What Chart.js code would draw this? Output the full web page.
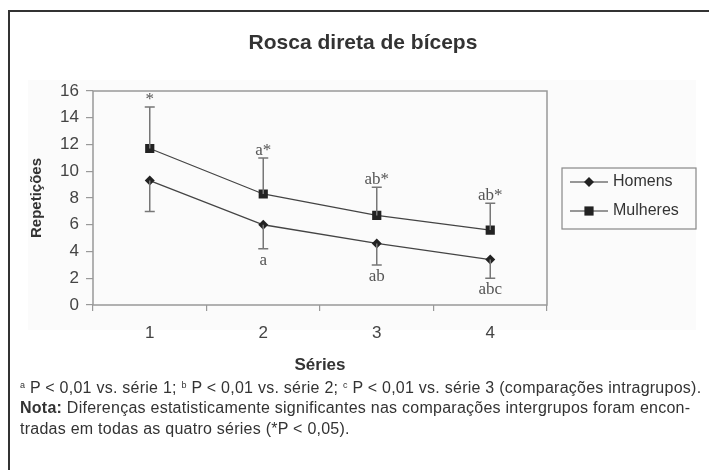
<!DOCTYPE html>
<html>
<head>
<meta charset="utf-8">
<script src="https://cdn.jsdelivr.net/npm/chart.js@4.4.1/dist/chart.umd.min.js"></script>
<style>
  html, body { margin: 0; padding: 0; background: #fff; }
  body { width: 709px; height: 470px; position: relative; overflow: hidden; }
  #frame { position: absolute; left: 8px; top: 10px; width: 760px; height: 520px;
           border-left: 2px solid #333; border-top: 2px solid #333; }
  #plotbg { position: absolute; left: 28px; top: 80px; width: 668px; height: 250px; background: #fbfbfb; }
  #chart { position: absolute; left: 0; top: 0; }
  .t { position: absolute; color: #333; font-family: 'Liberation Sans', sans-serif; white-space: nowrap; }
  #title { left: 0; width: 726px; top: 30px; text-align: center; font-weight: bold; font-size: 21px; }
  .note { left: 20px; font-size: 16px; letter-spacing: 0.25px; }
  sup { font-size: 9px; vertical-align: 5px; }
</style>
</head>
<body>
<div id="frame"></div>
<div id="plotbg"></div>
<canvas id="chart" width="709" height="470"></canvas>
<div class="t" id="title">Rosca direta de bíceps</div>
<div class="t note" style="top:379px"><sup>a</sup> P &lt; 0,01 vs. série 1; <sup>b</sup> P &lt; 0,01 vs. série 2; <sup>c</sup> P &lt; 0,01 vs. série 3 (comparações intragrupos).</div>
<div class="t note" style="top:399px"><b>Nota:</b> Diferenças estatisticamente significantes nas comparações intergrupos foram encon-</div>
<div class="t note" style="top:420px">tradas em todas as quatro séries (*P &lt; 0,05).</div>
<script>
const series = ['1', '2', '3', '4'];
const homens = [9.3, 6.0, 4.6, 3.4];
const homensSD = [2.3, 1.8, 1.6, 1.4];
const homensMarks = ['', 'a', 'ab', 'abc'];
const mulheres = [11.7, 8.3, 6.7, 5.6];
const mulheresSD = [3.1, 2.7, 2.1, 2.0];
const mulheresMarks = ['*', 'a*', 'ab*', 'ab*'];
const yTicks = [0, 2, 4, 6, 8, 10, 12, 14, 16];

const sans = "'Liberation Sans', Arial, sans-serif";

// error bars (one side only) + significance letters
const errorBars = {
  id: 'errorBars',
  afterDatasetsDraw(chart) {
    const ctx = chart.ctx;
    const y = chart.scales.y;
    chart.data.datasets.forEach((ds, i) => {
      const meta = chart.getDatasetMeta(i);
      meta.data.forEach((pt, j) => {
        const end = y.getPixelForValue(ds.data[j] + ds.sd[j] * ds.dir);
        ctx.save();
        ctx.strokeStyle = '#777';
        ctx.lineWidth = 1.5;
        ctx.beginPath();
        ctx.moveTo(pt.x, pt.y);
        ctx.lineTo(pt.x, end);
        ctx.moveTo(pt.x - 5, end);
        ctx.lineTo(pt.x + 5, end);
        ctx.stroke();
        ctx.fillStyle = '#555';
        ctx.font = "17px 'Liberation Serif', 'Times New Roman', serif";
        ctx.textAlign = 'center';
        if (ds.dir > 0) {
          ctx.textBaseline = 'alphabetic';
          ctx.fillText(ds.marks[j], pt.x, end - 3);
        } else {
          ctx.textBaseline = 'top';
          ctx.fillText(ds.marks[j], pt.x, end + 3);
        }
        ctx.restore();
      });
    });
  }
};

// box around plot area + legend box
const frameAndLegend = {
  id: 'frameAndLegend',
  afterDraw(chart) {
    const ctx = chart.ctx;
    const a = chart.chartArea;
    ctx.save();
    ctx.strokeStyle = '#999';
    ctx.lineWidth = 1.5;
    ctx.strokeRect(a.left, a.top, a.right - a.left, a.bottom - a.top);

    ctx.strokeStyle = '#888';
    ctx.lineWidth = 1.2;
    ctx.strokeRect(562, 168, 134, 61);
    const rows = [182, 211];
    chart.data.datasets.forEach((ds, i) => {
      const yy = rows[i];
      ctx.strokeStyle = '#333';
      ctx.lineWidth = 1.2;
      ctx.beginPath();
      ctx.moveTo(570, yy);
      ctx.lineTo(608, yy);
      ctx.stroke();
      ctx.fillStyle = '#222';
      Chart.helpers.drawPoint(ctx, { pointStyle: ds.pointStyle, radius: ds.pointRadius, rotation: 0, borderWidth: 0 }, 589, yy);
      ctx.fillStyle = '#333';
      ctx.font = '16px ' + sans;
      ctx.textAlign = 'left';
      ctx.textBaseline = 'middle';
      ctx.fillText(ds.label, 613, yy);
    });
    ctx.restore();
  }
};

new Chart(document.getElementById('chart').getContext('2d'), {
  type: 'line',
  data: {
    labels: series,
    datasets: [
      {
        label: 'Homens',
        data: homens,
        sd: homensSD,
        dir: -1,
        marks: homensMarks,
        borderColor: '#444',
        borderWidth: 1.3,
        backgroundColor: '#222',
        pointBackgroundColor: '#222',
        pointBorderWidth: 0,
        pointStyle: 'rectRot',
        pointRadius: 5,
        tension: 0
      },
      {
        label: 'Mulheres',
        data: mulheres,
        sd: mulheresSD,
        dir: 1,
        marks: mulheresMarks,
        borderColor: '#444',
        borderWidth: 1.3,
        backgroundColor: '#222',
        pointBackgroundColor: '#222',
        pointBorderWidth: 0,
        pointStyle: 'rect',
        pointRadius: 6.5,
        tension: 0
      }
    ]
  },
  options: {
    responsive: false,
    animation: false,
    layout: { padding: { left: 26, top: 91, right: 162, bottom: 90 } },
    plugins: {
      legend: { display: false },
      tooltip: { enabled: false }
    },
    scales: {
      x: {
        offset: true,
        grid: { offset: true, drawOnChartArea: false, tickLength: 6, color: '#999', lineWidth: 1.2 },
        border: { display: false },
        ticks: { color: '#444', padding: 12, font: { family: sans, size: 17 } },
        title: { display: true, text: 'Séries', color: '#333', font: { family: sans, size: 17, weight: 'bold' }, padding: 4 },
        afterFit(scale) { scale.height = 75; }
      },
      y: {
        min: 0,
        max: 16,
        afterBuildTicks(scale) { scale.ticks = yTicks.map(v => ({ value: v })); },
        grid: { drawOnChartArea: false, tickLength: 7, color: '#999', lineWidth: 1.2 },
        border: { display: false },
        ticks: { color: '#444', padding: 7, font: { family: sans, size: 17 } },
        title: { display: true, text: 'Repetições', color: '#333', font: { family: sans, size: 15, weight: 'bold' }, padding: 2 },
        afterFit(scale) { scale.width = 67; }
      }
    }
  },
  plugins: [errorBars, frameAndLegend]
});
</script>
</body>
</html>
